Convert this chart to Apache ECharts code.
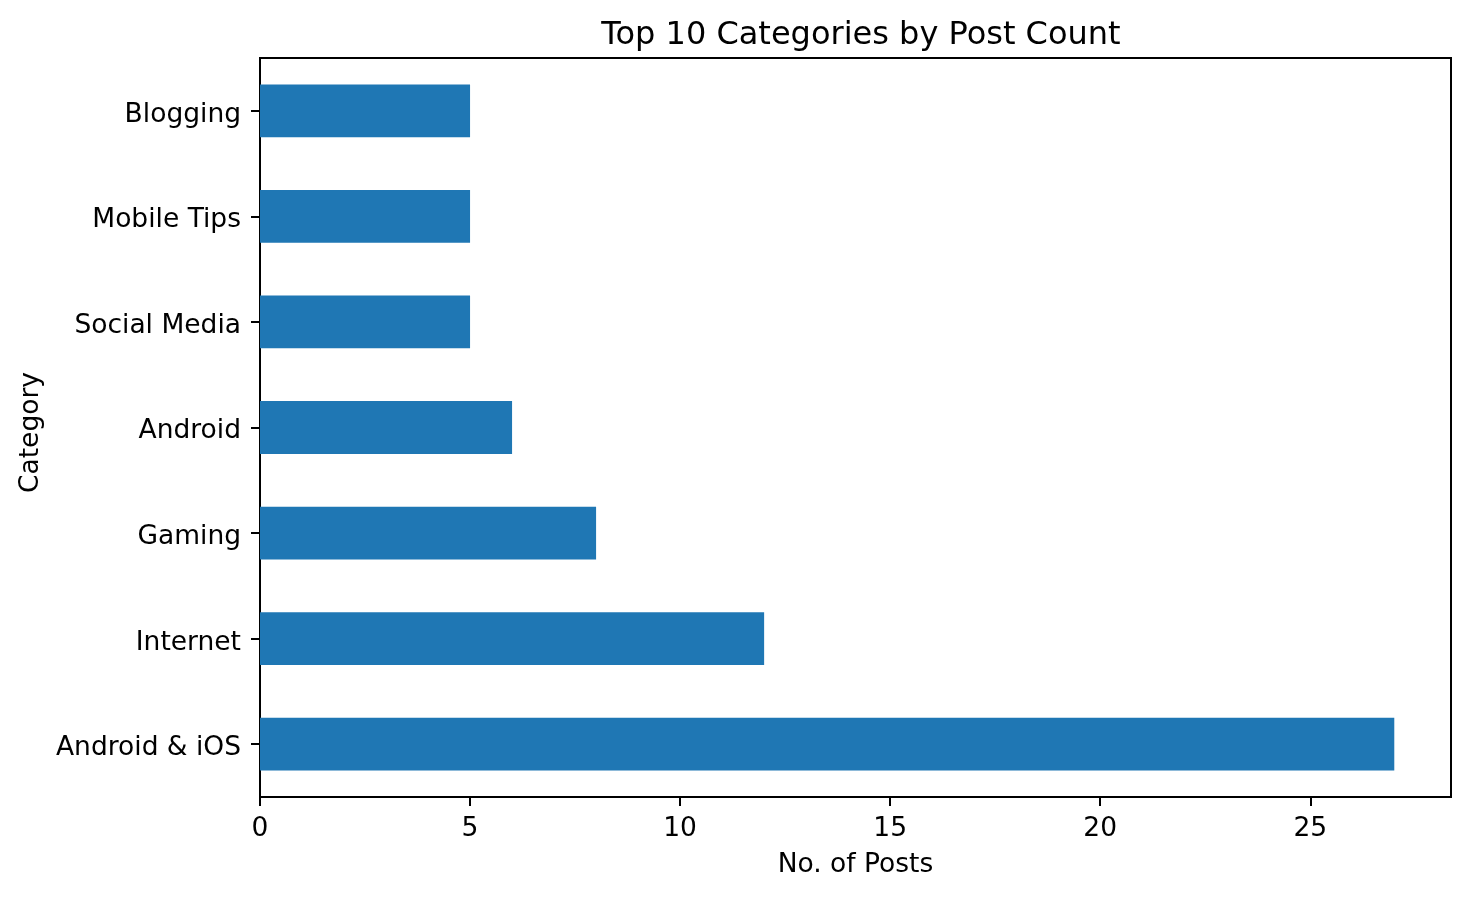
<!DOCTYPE html>
<html>
<head>
    <meta charset="UTF-8">
    <script type="text/javascript" src="https://cdn.jsdelivr.net/npm/echarts@6/dist/echarts.min.js"></script>
</head>
<body style="margin: 0;padding: 0;background: #fff;">
<div id="main" style="width: 1469px;height:898px;"></div>
<script>
    // categories listed bottom to top, like the picture
    var categories = ['Android & iOS', 'Internet', 'Gaming', 'Android', 'Social Media', 'Mobile Tips', 'Blogging']
    var postCounts = [27, 12, 8, 6, 5, 5, 5]
    var xTicks = [0, 5, 10, 15, 20, 25]
    var xMax = 28.35

    var chart = echarts.init(document.getElementById('main'));
    var font = 'DejaVu Sans'
    var option = {
        animation: false,
        title: {
            text: 'Top 10 Categories by Post Count',
            left: 856,
            top: 15,
            textAlign: 'center',
            textStyle: {
                fontFamily: font,
                fontSize: 32,
                fontWeight: 'normal',
                color: '#000'
            }
        },
        grid: {
            left: 260,
            right: 18,
            top: 58,
            bottom: 101,
            show: true,
            borderColor: '#000',
            borderWidth: 2,
            containLabel: false
        },
        xAxis: {
            type: 'value',
            min: 0,
            max: xMax,
            name: 'No. of Posts',
            nameLocation: 'middle',
            nameGap: 55,
            nameTextStyle: {fontFamily: font, fontSize: 26.5, color: '#000'},
            axisLine: {show: true, lineStyle: {color: '#000', width: 2}},
            axisTick: {show: true, length: 9, lineStyle: {color: '#000', width: 2}, customValues: xTicks},
            axisLabel: {fontFamily: font, fontSize: 26.5, color: '#000', margin: 19, customValues: xTicks},
            splitLine: {show: false}
        },
        yAxis: {
            type: 'category',
            data: categories,
            name: 'Category',
            nameLocation: 'middle',
            nameGap: 214,
            nameTextStyle: {fontFamily: font, fontSize: 26.5, color: '#000', padding: [0, 10, 0, 0]},
            axisLine: {show: true, lineStyle: {color: '#000', width: 2}},
            axisTick: {show: true, alignWithLabel: true, length: 9, lineStyle: {color: '#000', width: 2}},
            axisLabel: {fontFamily: font, fontSize: 26.5, color: '#000', margin: 19, verticalAlign: 'top', lineHeight: 8},
            splitLine: {show: false}
        },
        series: [{
            type: 'bar',
            data: postCounts,
            barWidth: '50%',
            itemStyle: {color: '#1f77b4'}
        }]
    };
    chart.setOption(option);
</script>
</body>
</html>
